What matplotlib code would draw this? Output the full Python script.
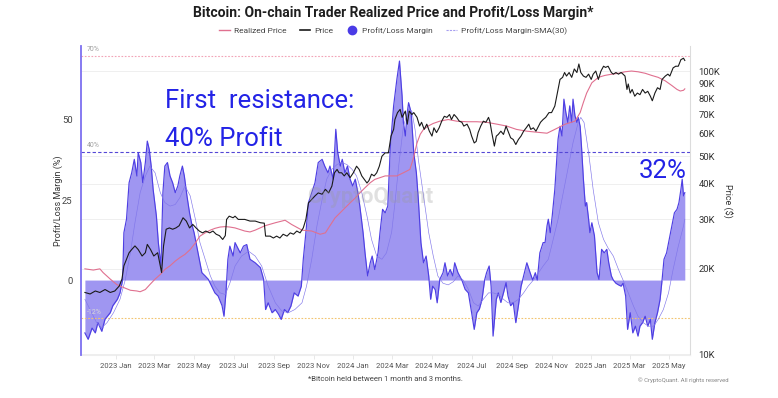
import numpy as np
import matplotlib
matplotlib.use("Agg")
import matplotlib.pyplot as plt
import matplotlib.dates as mdates
from matplotlib.lines import Line2D
from matplotlib.ticker import FuncFormatter, NullLocator

plt.rcParams['font.family'] = ['Roboto', 'DejaVu Sans']

BASE_DATE = np.datetime64('2023-01-01')

# ---- data (days counted from BASE_DATE) ----
margin_day = [-48, -43, -37, -32, -28, -22, -17, -9, -5, 2,
              6, 10, 12, 16, 20, 24, 28, 32, 34, 38,
              41, 45, 48, 51, 54, 57, 62, 65, 69, 72,
              75, 79, 83, 87, 91, 95, 98, 102, 105, 109,
              113, 116, 120, 124, 128, 132, 137, 142, 147, 152,
              157, 163, 166, 169, 172, 175, 180, 183, 191, 196,
              201, 206, 214, 222, 227, 230, 234, 240, 245, 250,
              254, 259, 264, 269, 274, 280, 285, 288, 292, 296,
              301, 306, 311, 317, 321, 326, 329, 334, 338, 341,
              345, 348, 352, 356, 360, 364, 368, 372, 375, 380,
              383, 387, 391, 394, 398, 403, 406, 410, 414, 418,
              422, 424, 427, 432, 436, 440, 442, 445, 448, 450,
              454, 458, 462, 465, 469, 473, 477, 481, 484, 487,
              491, 494, 498, 503, 506, 510, 514, 518, 521, 526,
              532, 537, 542, 547, 551, 555, 559, 563, 567, 570,
              574, 577, 580, 585, 588, 592, 596, 600, 603, 607,
              611, 615, 619, 623, 627, 632, 637, 641, 645, 648,
              652, 657, 660, 663, 665, 668, 671, 675, 680, 683,
              686, 689, 692, 695, 698, 701, 703, 706, 709, 711,
              714, 716, 719, 722, 724, 727, 729, 732, 736, 740,
              743, 747, 751, 755, 758, 762, 765, 769, 773, 777,
              780, 784, 787, 791, 795, 799, 803, 806, 810, 814,
              818, 822, 825, 829, 833, 837, 840, 843, 847, 851,
              855, 859, 863, 866, 869, 871, 873, 875]
margin_pct = [-16.5, -18.5, -15, -16.5, -13.3, -16, -12.2, -10.2, -8, -6,
              -4, 0, 14.8, 19, 30.4, 33.5, 37.7, 32.5, 39.8, 36.7,
              30.4, 36.7, 43.4, 40.8, 35.6, 28.3, 20, 11.7, 4.4, 27.3,
              35.6, 36.7, 32.5, 30.4, 27.3, 29.4, 32.5, 35.6, 32.5, 26.3,
              21, 17.9, 14.8, 10.6, 6.5, 2.3, 1.3, 0.2, -1.9, -4,
              -5, -8, -11.3, -4, 6.5, 10.6, 7.5, 11.7, 8.5, 10.6,
              11.1, 6.5, 5.4, 3.9, 0.2, -9.2, -7.1, -10.2, -9.2, -10.7,
              -12.3, -9.2, -10.2, -8.1, -4, -5, -1.9, 6.5, 14.8, 24.2,
              27.3, 30.4, 36.7, 37.7, 35.6, 33.5, 35.6, 31.5, 47.1, 39.8,
              35.6, 37.7, 33.5, 35.6, 31.5, 29.4, 31.5, 27.3, 23.1, 14.8,
              8.5, 1.3, 5.4, 7.5, 3.3, 8.5, 14.8, 22.1, 21, 23.1,
              41.9, 47, 54.4, 62.7, 68.4, 57.5, 49.2, 45, 52.3, 55.4,
              52.3, 39.8, 33.5, 25.2, 11.7, 5.4, 7.5, 1.3, -6, -1.9,
              -3, -7.1, 0.2, 2.3, 5.4, 1.3, 3.3, 1.3, 5.4, 2.3,
              0, -2.9, -4, -10.2, -15.4, -10.2, -9, -6, 0, 2.3,
              4.4, -2, -17.5, -6, -4, -7, -4, -0.8, -5, -8,
              -7, -13.3, -8, -2, 1.3, 5.4, 2.3, 0, 2.3, 0,
              8.5, 11.7, 11.7, 16.9, 19, 14.8, 20, 28.3, 44, 48,
              45, 56.5, 52.3, 49.2, 54.4, 49.2, 56.5, 51.3, 49.2, 50.8,
              48, 41.9, 31.5, 23.1, 24.2, 19, 14.8, 17.9, 13.8, 2.3,
              0.2, 9.6, 8.5, 9.6, 5.4, 1.3, 0, -1, -1.5, -1.9,
              -1, -5, -15.4, -10.2, -16.5, -14.4, -17.5, -14.4, -13.3, -11.3,
              -14.4, -12.3, -18.5, -13.3, -10.2, -6, 0, 6.5, 8.5, 12.7,
              16.9, 21, 22.1, 24.2, 28.3, 31.5, 26.3, 27.3]

sma_day = [-48, -40, -30, -22, -14, -4, 6, 14, 22, 29,
           37, 45, 52, 60, 68, 75, 83, 91, 98, 106,
           114, 122, 129, 137, 145, 152, 160, 168, 175, 183,
           193, 204, 214, 224, 234, 245, 255, 265, 275, 286,
           293, 301, 309, 317, 324, 332, 340, 347, 355, 363,
           370, 378, 386, 393, 401, 409, 416, 424, 429, 435,
           442, 450, 455, 460, 465, 473, 481, 488, 495, 503,
           511, 519, 526, 534, 542, 550, 557, 565, 573, 580,
           588, 596, 603, 611, 619, 627, 634, 642, 650, 657,
           665, 670, 680, 688, 696, 703, 711, 715, 720, 727,
           734, 742, 750, 757, 765, 773, 780, 788, 796, 803,
           811, 819, 827, 834, 842, 850, 857, 865, 873, 875]
sma_pct = [-6, -9.2, -13.3, -14.9, -13.3, -10.2, -6, 0, 8.5, 17.9,
           27.3, 32.5, 35.6, 33.5, 27.3, 24.2, 23.1, 23.6, 25.7, 29.4,
           26.3, 19, 11.7, 6.5, 1.3, -1.9, -4, -4.5, -1, 4.4,
           7.5, 9, 7.5, 4.4, -1.9, -7.1, -9.7, -10.2, -9.2, -7.1,
           -1.9, 6.5, 16.9, 25.2, 31.5, 34.6, 36.1, 36.7, 36.1, 34.6,
           32.5, 27.3, 20, 12.7, 7.5, 6.5, 8.5, 15, 24, 36,
           48, 53.3, 52.8, 47, 37.7, 26.3, 14.8, 7.5, 1.3, -1,
           -1.5, -0.5, 1.3, 0, -2.9, -7.1, -8.1, -6, -4, -4,
           -4.5, -6, -7.1, -7.1, -6, -4, -1.9, 0, 2.3, 4.4,
           6.5, 10.6, 19, 27.3, 35.6, 42.9, 49.2, 50.8, 49.2, 39.8,
           28.3, 17.9, 12.7, 10, 7.5, 3.3, 0, -4, -8.1, -11.3,
           -13.3, -14.4, -14.4, -12.3, -9.2, -4, 3.3, 10.6, 16.9, 19]

price_day = [-48, -40, -32, -25, -17, -9, -2, 5, 9, 12,
             16, 20, 24, 29, 34, 40, 45, 48, 53, 58,
             64, 68, 70, 73, 77, 82, 87, 92, 97, 103,
             108, 113, 118, 123, 128, 133, 138, 144, 149, 154,
             159, 164, 168, 170, 174, 180, 183, 188, 198, 206,
             214, 222, 228, 230, 237, 242, 247, 252, 257, 263,
             268, 273, 278, 283, 288, 292, 296, 301, 306, 311,
             317, 322, 327, 332, 336, 340, 343, 347, 351, 355,
             360, 365, 370, 374, 378, 382, 386, 389, 393, 397,
             401, 405, 409, 414, 419, 423, 427, 429, 433, 437,
             440, 445, 448, 451, 455, 458, 463, 467, 470, 474,
             478, 482, 486, 489, 493, 497, 501, 505, 509, 513,
             516, 520, 524, 528, 532, 535, 540, 544, 547, 551,
             554, 557, 561, 565, 569, 573, 575, 578, 582, 585,
             588, 592, 596, 600, 603, 607, 611, 615, 619, 623,
             627, 631, 635, 638, 642, 646, 650, 653, 657, 661,
             666, 670, 675, 680, 683, 687, 690, 693, 697, 701,
             705, 709, 712, 715, 719, 723, 727, 731, 734, 738,
             742, 746, 750, 753, 757, 762, 765, 769, 773, 777,
             780, 783, 786, 788, 791, 794, 798, 802, 806, 810,
             814, 818, 822, 825, 829, 833, 837, 840, 845, 849,
             852, 857, 861, 865, 869, 873, 875]
price_k = [16.5, 16.3, 16.7, 16.5, 16.9, 16.5, 16.7, 17.4, 18.4, 20.5,
           21.6, 22.8, 23.4, 24.1, 23.4, 22.2, 22.8, 24.4, 23.4, 22.2,
           22.8, 20.5, 19.4, 24.1, 27.6, 27.9, 27.6, 27.9, 28.4, 30.3,
           29.5, 27.9, 28.7, 27.9, 27.2, 26.8, 27.2, 26.8, 27.2, 26.5,
           26.2, 25.4, 26.2, 29.9, 30.7, 30.3, 30.7, 29.9, 29.9, 29.5,
           29.5, 29.1, 29.0, 26.1, 26.1, 25.7, 26.1, 25.7, 26.5, 26.1,
           26.8, 26.5, 27.2, 26.8, 27.9, 29.9, 34.2, 35.2, 36.2, 37.1,
           36.7, 38.2, 37.1, 39.2, 43.7, 44.9, 43.7, 43.7, 42.6, 43.7,
           42.0, 43.7, 46.1, 44.9, 42.6, 41.4, 40.2, 41.0, 43.2, 42.6,
           43.7, 46.1, 50.0, 51.4, 51.4, 58.9, 62.2, 67.4, 71.3, 73.2,
           68.6, 72.2, 64.9, 72.2, 70.2, 71.3, 68.6, 63.9, 65.9, 62.2,
           64.9, 61.3, 58.9, 63.0, 60.6, 63.0, 66.5, 69.2, 68.6, 70.2,
           67.4, 70.2, 68.6, 66.5, 65.9, 63.9, 64.9, 62.2, 58.9, 55.7,
           56.4, 60.6, 63.9, 66.5, 65.9, 68.6, 66.5, 60.6, 54.3, 58.9,
           59.7, 61.3, 59.7, 63.9, 61.3, 58.1, 57.3, 55.0, 57.3, 58.9,
           61.3, 63.0, 64.9, 62.2, 63.0, 61.3, 63.9, 65.9, 67.4, 68.6,
           71.3, 71.3, 75.2, 86.1, 93.4, 95.0, 98.8, 96.0, 98.8, 95.0,
           101.7, 98.8, 105.9, 98.8, 96.0, 95.0, 97.5, 93.4, 97.5, 100.0,
           93.4, 100.0, 104.0, 103.0, 104.0, 98.8, 97.5, 98.8, 97.5, 98.8,
           97.5, 96.0, 86.1, 90.0, 83.6, 86.1, 81.5, 83.6, 82.5, 86.1,
           83.6, 84.8, 81.5, 78.5, 83.6, 87.3, 86.1, 93.4, 96.0, 97.5,
           96.0, 102.6, 104.0, 104.0, 109.7, 111.0, 109.0]

realized_day = [-48, -35, -25, -20, -9, 1, 11, 22, 32, 37,
                45, 52, 60, 68, 75, 83, 91, 98, 106, 114,
                122, 129, 137, 145, 152, 160, 168, 175, 183, 198,
                206, 214, 229, 245, 260, 270, 286, 301, 314, 322,
                329, 337, 345, 352, 360, 368, 375, 383, 391, 398,
                406, 414, 424, 432, 442, 452, 457, 463, 468, 473,
                480, 488, 498, 511, 524, 540, 555, 570, 586, 601,
                616, 632, 647, 663, 675, 691, 706, 714, 719, 724,
                732, 742, 752, 763, 773, 783, 793, 803, 814, 824,
                834, 845, 855, 863, 868, 873, 875]
realized_k = [20.0, 19.8, 20.0, 19.4, 18.4, 17.6, 17.2, 16.8, 16.7, 16.6,
              16.9, 17.6, 18.4, 19.1, 19.9, 20.5, 21.3, 21.9, 22.5, 23.4,
              24.7, 26.1, 26.8, 27.4, 27.8, 28.1, 28.2, 28.1, 27.9, 27.2,
              27.0, 27.4, 28.4, 29.1, 29.7, 28.7, 27.4, 27.2, 26.5, 26.8,
              28.4, 30.3, 31.6, 32.8, 34.2, 35.6, 37.1, 38.7, 40.3, 41.4,
              42.0, 42.6, 42.6, 42.6, 43.7, 44.9, 48.8, 55.7, 59.8, 62.2,
              63.9, 65.3, 66.5, 67.4, 66.5, 66.2, 66.2, 65.9, 64.9, 63.9,
              62.2, 61.3, 60.8, 60.3, 62.2, 64.9, 66.5, 71.3, 77.5, 83.6,
              90.9, 95.0, 96.5, 97.5, 98.2, 99.4, 100.0, 99.4, 98.2, 96.5,
              95.0, 92.3, 88.9, 86.1, 85.0, 85.5, 86.5]

x_tick_months = ['2023-01', '2023-03', '2023-05', '2023-07', '2023-09', '2023-11',
                 '2024-01', '2024-03', '2024-05', '2024-07', '2024-09', '2024-11',
                 '2025-01', '2025-03', '2025-05']
margin_ticks = [0, 25, 50]
price_ticks_k = [10, 20, 30, 40, 50, 60, 70, 80, 90, 100]
price_grid_k = [10, 20, 30, 40, 50, 100]
ref_levels = [70, 40, -12]
ref_labels = ['70%', '40%', '-12%']

title = "Bitcoin: On-chain Trader Realized Price and Profit/Loss Margin*"
legend_labels = ['Realized Price', 'Price', 'Profit/Loss Margin', 'Profit/Loss Margin-SMA(30)']


def to_dates(days):
    return BASE_DATE + np.array(days, dtype='timedelta64[D]')


# ---- styles ----
FILL = '#9f96f1'
EDGE = '#4e3fe3'
SMA_C = '#8177ea'
REAL_C = '#e0708f'
PRICE_C = '#1a1a1a'
ANNOT_C = '#2323e6'

W, H = 778, 398
fig = plt.figure(figsize=(W / 100, H / 100), dpi=100)
L, R, T, B = 81, 690, 46, 355
ax = fig.add_axes([L / W, 1 - B / H, (R - L) / W, (B - T) / H])
ax2 = ax.twinx()
ax.set_zorder(ax2.get_zorder() + 1)
ax.patch.set_visible(False)

# limits
ax.set_xlim(BASE_DATE - np.timedelta64(54, 'D'), BASE_DATE + np.timedelta64(883, 'D'))
ax.set_ylim(-23.4, 73.1)
ax2.set_yscale('log')
ax2.set_ylim(9920, 122600)

# grid on price axis (behind)
for g in price_grid_k:
    ax2.axhline(g * 1000, color='#efefef', lw=0.7, zorder=0)

md = to_dates(margin_day)
ax.fill_between(md, margin_pct, 0, color=FILL, lw=0, zorder=2)
ax.plot(md, margin_pct, color=EDGE, lw=0.85, zorder=3)
ax.plot(to_dates(sma_day), sma_pct, color=SMA_C, lw=0.45, zorder=3.5)

ref_styles = [('#f2a3b6', (0, (1.5, 1.5))), ('#5447d6', (0, (3, 2))), ('#f2c470', (0, (1.5, 1.5)))]
for lvl, lab, (c, ls) in zip(ref_levels, ref_labels, ref_styles):
    ax.axhline(lvl, color=c, lw=0.8, ls=ls, zorder=2.5)
    ax.text(BASE_DATE - np.timedelta64(45, 'D'), lvl + 0.8, lab, fontsize=5,
            color='#a0a0a0' if lvl > 0 else '#d8d8d8', va='bottom', ha='left', zorder=6)

# price lines drawn on top axes, using the log price transform
ax.plot(to_dates(realized_day), np.array(realized_k) * 1000, color=REAL_C, lw=0.8,
        transform=ax2.transData, zorder=4)
ax.plot(to_dates(price_day), np.array(price_k) * 1000, color=PRICE_C, lw=0.8,
        transform=ax2.transData, zorder=4.5)

# x axis
xt = np.array([np.datetime64(m + '-01') for m in x_tick_months])
ax.set_xticks(xt)
ax.xaxis.set_major_formatter(mdates.DateFormatter('%Y %b'))
ax.tick_params(axis='x', labelsize=5.5, labelcolor='#555555', color='#e4e4e4',
               length=3, width=0.6, pad=2.5)

# left axis
ax.set_yticks(margin_ticks)
ax.tick_params(axis='y', labelsize=6.8, labelcolor='#444444', length=0, pad=6)
ax.set_ylabel('Profit/Loss Margin (%)', fontsize=6.5, color='#333333')
ax.yaxis.set_label_coords(-(L - 63) / (R - L), 0.5)

# right axis
ax2.set_yticks([p * 1000 for p in price_ticks_k])
ax2.yaxis.set_minor_locator(NullLocator())
ax2.yaxis.set_major_formatter(FuncFormatter(lambda v, p: f'{int(round(v / 1000))}K'))
ax2.tick_params(axis='y', labelsize=6.8, labelcolor='#333333', length=0, pad=6)
ax2.set_ylabel('Price ($)', fontsize=6.5, color='#333333', rotation=270, va='center')
ax2.yaxis.set_label_coords((727 - L) / (R - L), 0.5)

# spines
for s in ['top', 'right', 'bottom']:
    ax.spines[s].set_visible(False)
ax.spines['left'].set_color('#7d70f0')
ax.spines['left'].set_linewidth(1.3)
for s in ['top', 'left']:
    ax2.spines[s].set_visible(False)
ax2.spines['right'].set_color('#dcdcdc')
ax2.spines['right'].set_linewidth(0.8)
ax2.spines['bottom'].set_color('#eeeeee')
ax2.spines['bottom'].set_linewidth(0.8)

# title and legend
fig.text(393 / W, 1 - 13 / H, title, ha='center', va='center', fontsize=10,
         fontweight='bold', color='#1e1e1e')
handles = [Line2D([], [], color=REAL_C, lw=1),
           Line2D([], [], color=PRICE_C, lw=1.2),
           Line2D([], [], color='#4a3be6', marker='o', ls='', markersize=6),
           Line2D([], [], color='#a79ff0', lw=0.8, ls=(0, (2, 1)))]
fig.legend(handles, legend_labels, loc='center', bbox_to_anchor=(393 / W, 1 - 31 / H),
           ncol=4, frameon=False, fontsize=6, labelcolor='#444444', handlelength=1.3,
           handletextpad=0.5, columnspacing=1.6)

# annotations
fig.text(165 / W, 1 - 108 / H, 'First  resistance:', fontsize=18.5, color=ANNOT_C,
         ha='left', va='baseline')
fig.text(165 / W, 1 - 146 / H, '40% Profit', fontsize=18.5, color=ANNOT_C,
         ha='left', va='baseline')
fig.text(687 / W, 1 - 178 / H, '32%', fontsize=18.5, color=ANNOT_C,
         ha='right', va='baseline')

# watermark
fig.text(370 / W, 1 - 197 / H, 'CryptoQuant', fontsize=16, fontweight='bold',
         color='#9a9a9a', alpha=0.3, ha='center', va='center', zorder=10)

# footnotes
fig.text(385 / W, 1 - 379 / H, '*Bitcoin held between 1 month and 3 months.',
         fontsize=5.5, color='#444444', ha='center', va='center')
fig.text(729 / W, 1 - 380 / H, '\u00a9 CryptoQuant. All rights reserved',
         fontsize=4.3, color='#888888', ha='right', va='center')

fig.savefig('out.png', dpi=100)
